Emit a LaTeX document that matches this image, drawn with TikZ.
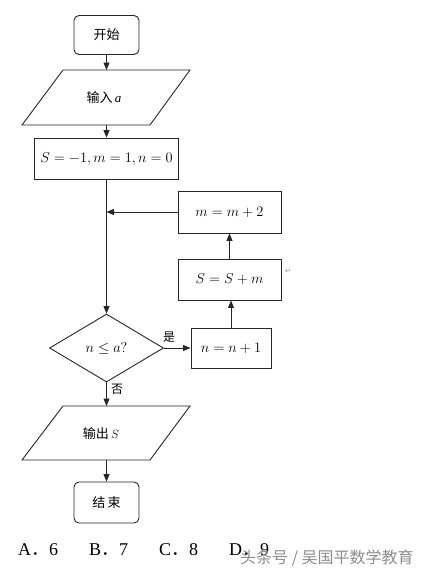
\documentclass[tikz,border=0pt]{standalone}
\usepackage{fontspec}
\setmainfont{Liberation Serif}
\newfontfamily\cjk{Noto Sans CJK SC}
\newfontfamily\dejavu{DejaVu Sans}
\usetikzlibrary{shapes.geometric,arrows.meta}
\tikzset{
  ln/.style={line width=0.9pt, draw=black!85},
  arr/.style={ln, -{Triangle[length=7.5pt,width=6pt]}},
  term/.style={ln, rounded corners=5pt, minimum width=65pt, minimum height=39pt, inner sep=0pt},
  procbox/.style={ln, rectangle, inner sep=0pt},
  cn/.style={font=\cjk\fontsize{13}{15}\selectfont},
  mt/.style={font=\fontsize{14}{16}\selectfont},
  lbl/.style={font=\cjk\fontsize{12}{14}\selectfont, inner sep=0pt},
  ans/.style={font=\fontsize{18}{20}\selectfont, anchor=base west, inner sep=0pt},
}
\begin{document}
\begin{tikzpicture}[x=1pt,y=-1pt]
\useasboundingbox (0,0) rectangle (442,574);
% start
\node[term, cn] (start) at (106.5,35) {开始};
% input
\draw[ln] (63,70) -- (190,70) -- (150,125) -- (22,125) -- cycle;
\node[cn, inner sep=0pt] (intxt) at (104,98) {输入\,$\mathit{a}$};
\coordinate (intop) at (106.5,70);
\coordinate (inbot) at (106.5,125);
% init
\node[procbox, minimum width=144pt, minimum height=41pt, mt] (init) at (106.5,158.5) {$S=-1,m=1,n=0$};
% loop boxes
\node[procbox, minimum width=103pt, minimum height=42pt, mt] (mm) at (229.5,212) {$m=m+2$};
\node[procbox, minimum width=103pt, minimum height=41pt, mt] (sm) at (229.5,279.5) {$S=S+m$};
\node[procbox, minimum width=80pt, minimum height=40pt, mt] (nn) at (231,348) {$n=n+1$};
% diamond
\node[ln, diamond, minimum width=114pt, minimum height=68pt, inner sep=0pt, mt] (dia) at (106.5,348) {$n\le a?$};
\coordinate (join) at (106.5,212);
% output
\draw[ln] (63,406) -- (190,406) -- (150,460) -- (22,460) -- cycle;
\node[cn, inner sep=0pt] (outtxt) at (101,434) {输出\,$S$};
\coordinate (outtop) at (106.5,406);
\coordinate (outbot) at (106.5,460);
% end
\node[term, cn, minimum height=41pt] (stop) at (106.5,502.5) {结\,束};
% connectors
\draw[arr] (start) -- (intop);
\draw[arr] (inbot) -- (init);
\draw[arr] (init) -- (dia);
\draw[arr] (mm.west) -- (join);
\draw[arr] (sm.north) -- (mm.south);
\draw[arr] (nn.north) -- (nn.north |- sm.south);
\draw[arr] (dia.east) -- (nn.west);
\draw[arr] (dia.south) -- (outtop);
\draw[arr] (outbot) -- (stop);
% labels
\node[lbl] (yes) at (169,337) {是};
\node[lbl] (no) at (117,389) {否};
\node[font=\dejavu\fontsize{7}{8}\selectfont, text=black!45, inner sep=0pt] (ret) at (288,271) {↵};
% answers
\node[ans] (a) at (18,555) {A{\cjk ．}6};
\node[ans] (b) at (89,555) {B{\cjk ．}7};
\node[ans] (c) at (159,555) {C{\cjk ．}8};
\node[ans] (d) at (229,555) {D{\cjk ．}9};
\node[font=\cjk\fontsize{16}{18}\selectfont, text=black!45, anchor=west, inner sep=0pt] (wm) at (240,558) {头条号 / 吴国平数学教育};
\end{tikzpicture}
\end{document}
